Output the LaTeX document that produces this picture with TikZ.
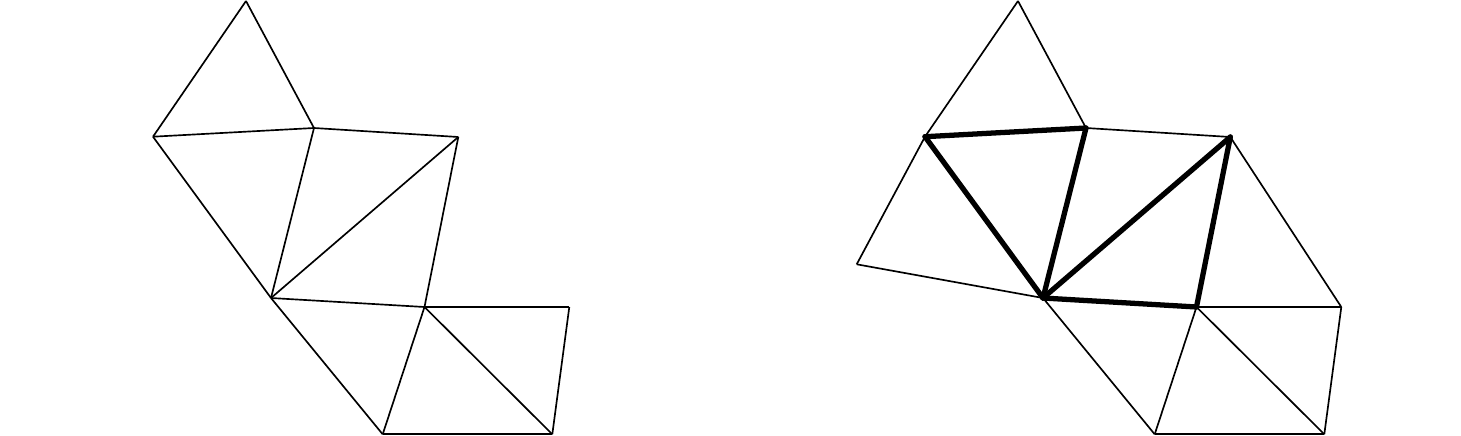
\documentclass[tikz,border=0pt]{standalone}
\usepackage{tikz}

\tikzset{
  edge/.style={line width=0.95pt, line join=round},
  flip/.style={line width=3pt, line join=round, line cap=round},
}

\begin{document}
\begin{tikzpicture}[x=0.02cm, y=-0.02cm]
  \useasboundingbox (0,0) rectangle (1461,436);

  %% vertici della triangolazione a sinistra (coordinate in pixel)
  \coordinate (la) at (246,1);
  \coordinate (lb) at (153,136.7);
  \coordinate (lc) at (314,128);
  \coordinate (ld) at (458.3,137);
  \coordinate (le) at (271,298);
  \coordinate (lf) at (424.5,307);
  \coordinate (lg) at (569.3,307);
  \coordinate (lh) at (382.7,434.3);
  \coordinate (li) at (552.3,434.3);

  \foreach \p/\q in {la/lb, la/lc, lb/lc, lb/le, lc/le, lc/ld, ld/le, ld/lf,
                     le/lf, le/lh, lf/lh, lf/lg, lf/li, lg/li, lh/li}
    \draw [edge] (\p) -- (\q);

  %% stessa triangolazione a destra, spostata di 772 px, con un vertice in piu
  \begin{scope}[xshift=772*0.02cm]
    \coordinate (ra) at (246,1);
    \coordinate (rb) at (153,136.7);
    \coordinate (rc) at (314,128);
    \coordinate (rd) at (458.3,137);
    \coordinate (re) at (271,298);
    \coordinate (rf) at (424.5,307);
    \coordinate (rg) at (569.3,307);
    \coordinate (rh) at (382.7,434.3);
    \coordinate (ri) at (552.3,434.3);
    \coordinate (rj) at (84.7,264.3);
  \end{scope}

  \foreach \p/\q in {ra/rb, ra/rc, rb/rj, rj/re, rc/rd, rd/rg,
                     re/rh, rf/rh, rf/rg, rf/ri, rg/ri, rh/ri}
    \draw [edge] (\p) -- (\q);

  %% lati evidenziati
  \foreach \p/\q in {rb/rc, rb/re, rc/re, rd/re, rd/rf, re/rf}
    \draw [flip] (\p) -- (\q);
\end{tikzpicture}
\end{document}
